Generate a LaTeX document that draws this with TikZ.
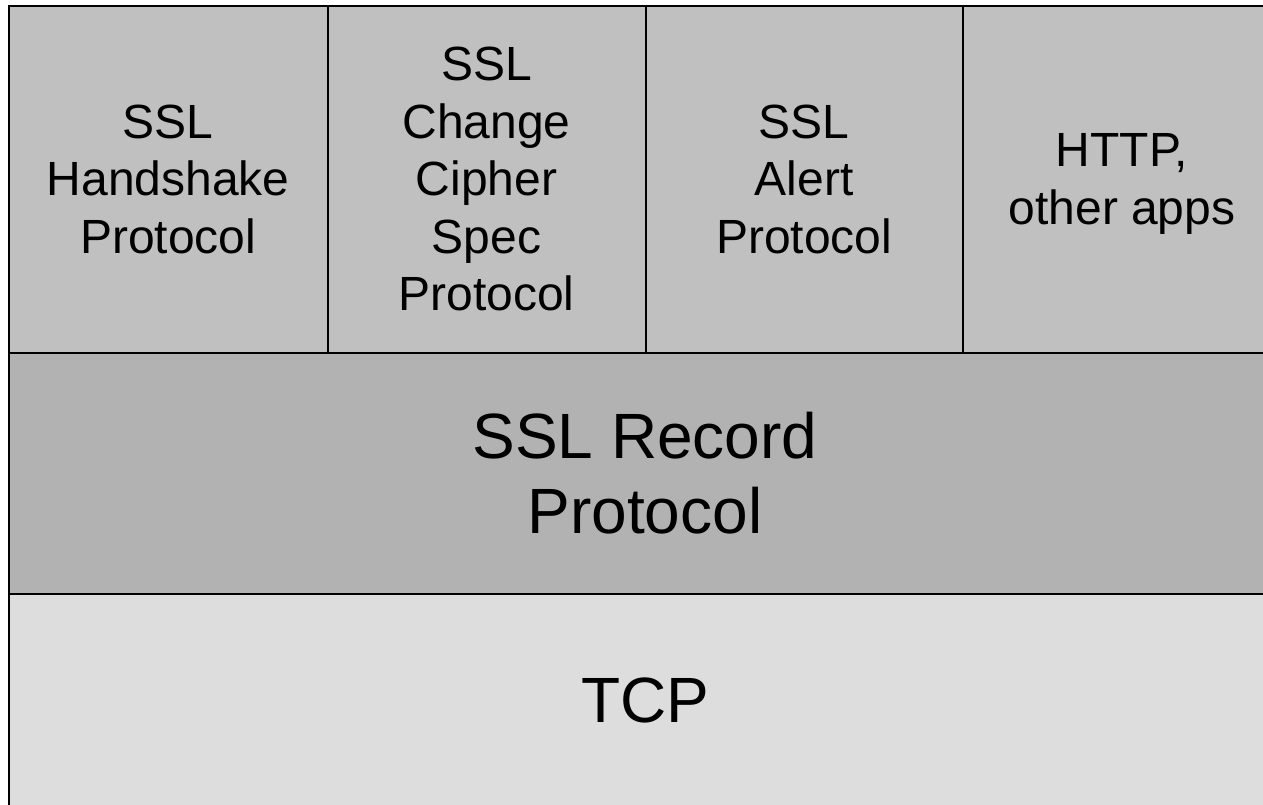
\documentclass[tikz,border=0pt]{standalone}
\usepackage{fontspec}
\setmainfont{Liberation Sans}
\definecolor{topgray}{gray}{0.753}
\definecolor{midgray}{gray}{0.700}
\definecolor{lowgray}{gray}{0.867}
\begin{document}
\begin{tikzpicture}[x=1pt,y=-1pt,
  cell/.style={draw=black, line width=2pt, rectangle, inner sep=0pt, outer sep=0pt,
    anchor=north west, align=center},
  topcell/.style={cell, fill=topgray, minimum height=347pt,
    font=\fontsize{48}{57.5}\selectfont},
  bigcell/.style={cell, minimum width=1272pt,
    font=\fontsize{64}{75}\selectfont}]
\useasboundingbox (0,0) rectangle (1263,804);
\node[topcell, minimum width=318.5pt] (hs) at (9,5.5) {SSL\\Handshake\\Protocol};
\node[topcell, minimum width=318pt] (ccs) at (327.5,5.5) {SSL\\Change\\Cipher\\Spec\\Protocol};
\node[topcell, minimum width=317.5pt] (al) at (645.5,5.5) {SSL\\Alert\\Protocol};
\node[topcell, minimum width=318pt, text depth=0pt] (app) at (963,5.5) {HTTP,\\other apps};
\node[bigcell, fill=midgray, minimum height=241.5pt] (rec) at (9,352.5) {SSL Record\\Protocol};
\node[bigcell, fill=lowgray, minimum height=212pt] (tcp) at (9,594) {TCP};
\end{tikzpicture}
\end{document}
